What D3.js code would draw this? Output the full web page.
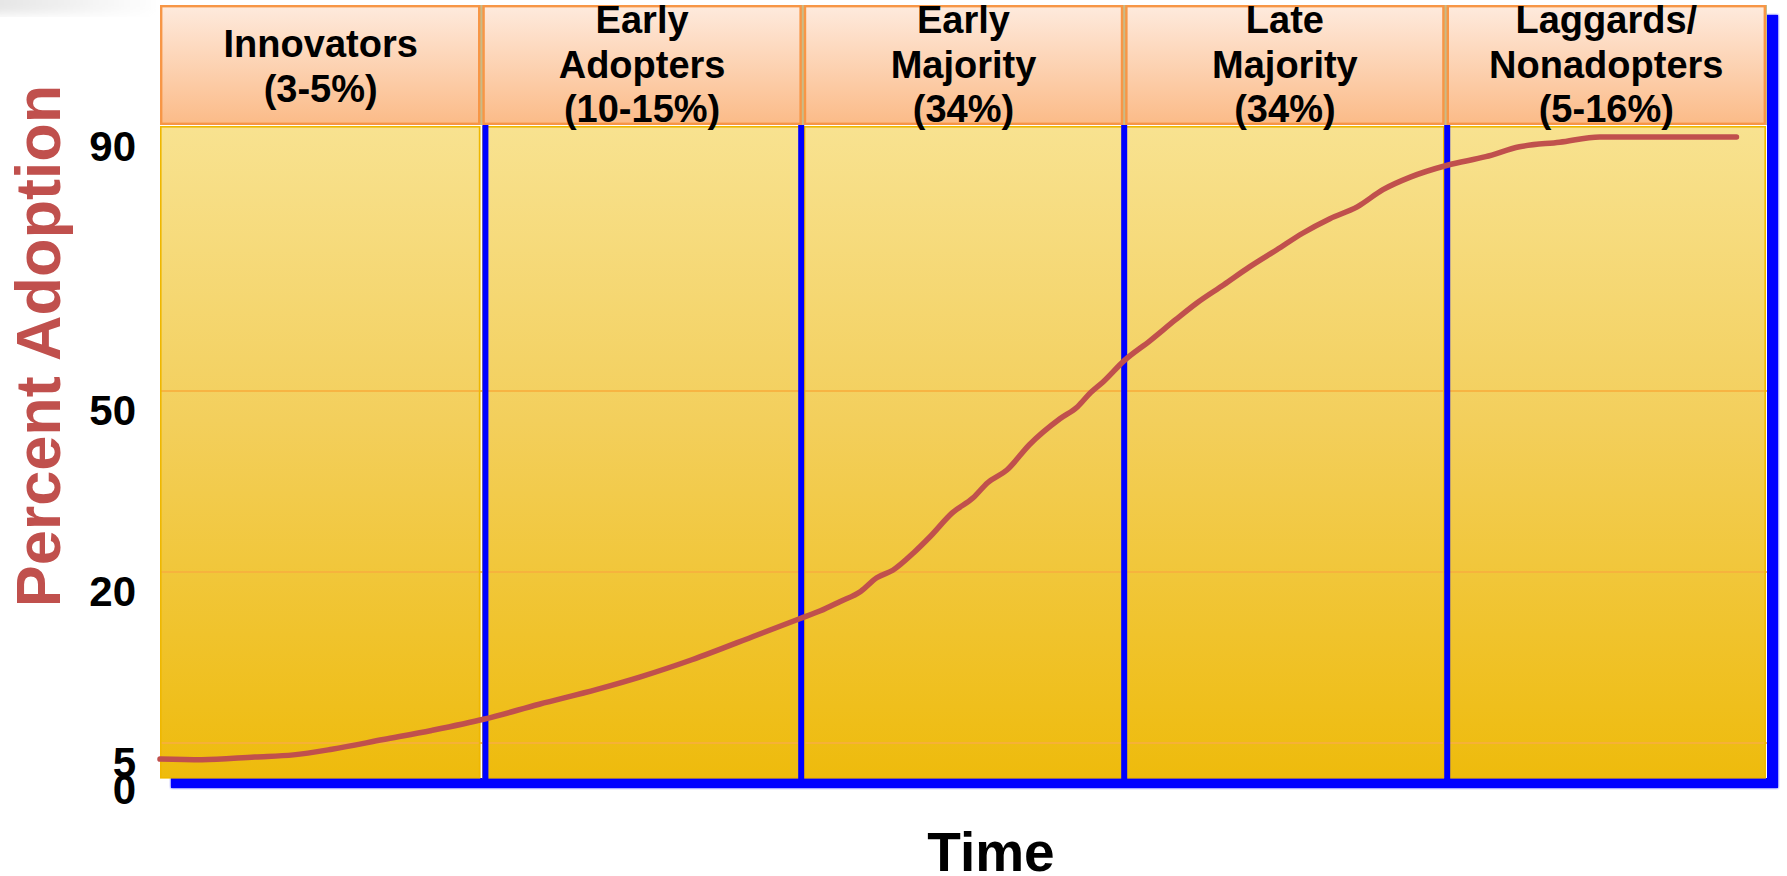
<!DOCTYPE html>
<html>
<head>
<meta charset="utf-8">
<script src="https://cdn.jsdelivr.net/npm/d3@7/dist/d3.min.js"></script>
<style>
  html, body { margin: 0; padding: 0; background: #ffffff; }
  svg { display: block; }
  text { font-family: "Liberation Sans", Arial, Helvetica, sans-serif; font-weight: bold; }
</style>
</head>
<body>
<svg id="chart" width="1787" height="876"></svg>
<script>
// ---------------- DATA ----------------
const stageLines = [
  ["Innovators", "(3-5%)"],
  ["Early", "Adopters", "(10-15%)"],
  ["Early", "Majority", "(34%)"],
  ["Late", "Majority", "(34%)"],
  ["Laggards/", "Nonadopters", "(5-16%)"]
];
const stageBounds = [0, 20, 40, 60, 80, 100];          // time units
const dividerTimes = [20.25, 39.9, 60, 80.1];           // blue stage dividers
const yTickValues = [0, 5, 20, 50, 90];
const gridValues = [5, 20, 50];
const curveTime = [0, 2.6, 5.9, 8.3, 10.7, 13.9, 16.9, 20.2, 23.6, 27.2, 29.9, 33.1, 37.2, 39.8,
  41.1, 42.3, 43.6, 44.6, 45.6, 46.9, 47.9, 49.3, 50.6, 51.5, 52.7, 54.1, 56.0, 57.1, 57.9, 58.7,
  60.0, 61.6, 63.2, 64.5, 66.2, 67.8, 69.5, 71.1, 72.8, 74.5, 76.1, 77.8, 80.1, 82.5, 84.6, 87.1,
  89.6, 98.1];
const curveValue = [2.7, 2.6, 3.0, 3.3, 4.1, 5.3, 6.1, 7.1, 8.4, 9.7, 10.8, 12.3, 14.5, 15.9,
  16.6, 17.4, 18.3, 19.5, 20.3, 23.2, 25.8, 29.8, 32.3, 34.8, 36.9, 41.1, 45.4, 47.4, 49.7, 51.4,
  54.6, 57.6, 60.8, 63.3, 66.1, 68.8, 71.4, 73.9, 76.1, 77.9, 80.5, 82.4, 84.2, 85.5, 87.0, 87.7,
  88.5, 88.5];
const yTitle = "Percent Adoption";
const xTitle = "Time";

// ---------------- LAYOUT ----------------
const W = 1787, H = 876;
const plotLeft = 160, plotRight = 1767, plotTop = 127, plotBottom = 778;
const headTop = 5, headBottom = 125;
const plotH = plotBottom - plotTop;
// axis is not uniform in the original: fraction of plot height for each tick value
const tickFractions = [0, 0.0538, 0.3164, 0.5945, 1];

const x = d3.scaleLinear().domain([0, 100]).range([plotLeft, plotRight]);
const y = d3.scaleLinear()
  .domain(yTickValues)
  .range(tickFractions.map(f => plotBottom - f * plotH));

const svg = d3.select("#chart");
const defs = svg.append("defs");

const gHead = defs.append("linearGradient").attr("id", "gHead")
  .attr("x1", 0).attr("y1", 0).attr("x2", 0).attr("y2", 1);
gHead.append("stop").attr("offset", "0%").attr("stop-color", "#feeadd");
gHead.append("stop").attr("offset", "100%").attr("stop-color", "#fbbb88");

const gPlot = defs.append("linearGradient").attr("id", "gPlot")
  .attr("gradientUnits", "userSpaceOnUse")
  .attr("x1", 0).attr("y1", plotTop).attr("x2", 0).attr("y2", plotBottom);
gPlot.append("stop").attr("offset", "0%").attr("stop-color", "#f8e290");
gPlot.append("stop").attr("offset", "45%").attr("stop-color", "#f3cf5c");
gPlot.append("stop").attr("offset", "100%").attr("stop-color", "#eebb0c");

const gTL = defs.append("linearGradient").attr("id", "gTL")
  .attr("x1", 0).attr("y1", 0).attr("x2", 1).attr("y2", 0);
gTL.append("stop").attr("offset", "0%").attr("stop-color", "#e4e4e4");
gTL.append("stop").attr("offset", "100%").attr("stop-color", "#ffffff");

defs.append("filter").attr("id", "soft").append("feGaussianBlur").attr("stdDeviation", 0.8);
defs.append("filter").attr("id", "blurTL").append("feGaussianBlur").attr("stdDeviation", 5);

// faint grey corner shadow
svg.append("rect").attr("x", -10).attr("y", -10).attr("width", 170).attr("height", 24)
  .attr("fill", "url(#gTL)").attr("filter", "url(#blurTL)");

// blue drop shadow of the whole box
svg.append("rect")
  .attr("x", plotLeft + 11).attr("y", headTop + 10)
  .attr("width", plotRight - plotLeft).attr("height", plotBottom - headTop)
  .attr("fill", "#0000ff").attr("filter", "url(#soft)");
svg.append("rect")
  .attr("x", plotLeft + 11).attr("y", headTop + 10)
  .attr("width", plotRight - plotLeft).attr("height", plotBottom - headTop)
  .attr("fill", "#0000ff");

// header background (gap colour)
svg.append("rect").attr("x", plotLeft).attr("y", headTop)
  .attr("width", plotRight - plotLeft).attr("height", headBottom - headTop)
  .attr("fill", "#c9bb86");

const cols = d3.range(stageLines.length);

// plot cells
svg.append("rect").attr("x", plotLeft).attr("y", plotTop - 2)
  .attr("width", plotRight - plotLeft).attr("height", plotBottom - plotTop + 2)
  .attr("fill", "#ffffff");
svg.selectAll("rect.pcell").data(cols).join("rect").attr("class", "pcell")
  .attr("x", i => x(stageBounds[i]) + (i === 0 ? 0 : 1))
  .attr("y", plotTop - 1)
  .attr("width", i => x(stageBounds[i + 1]) - x(stageBounds[i]) - (i === 0 ? 1 : 2))
  .attr("height", plotBottom - plotTop + 1)
  .attr("fill", "url(#gPlot)");

// grid lines
svg.selectAll("line.grid").data(gridValues).join("line").attr("class", "grid")
  .attr("x1", plotLeft).attr("x2", plotRight)
  .attr("y1", d => y(d)).attr("y2", d => y(d))
  .attr("stroke", "#f8b03e").attr("stroke-width", 1.8).attr("opacity", 0.85);

// cell borders
svg.selectAll("rect.pborder").data(cols).join("rect").attr("class", "pborder")
  .attr("x", i => x(stageBounds[i]) + (i === 0 ? 0.8 : 1.8))
  .attr("y", plotTop - 0.2)
  .attr("width", i => x(stageBounds[i + 1]) - x(stageBounds[i]) - (i === 0 ? 2.6 : 3.6))
  .attr("height", plotBottom - plotTop)
  .attr("fill", "none").attr("stroke", "#efb700").attr("stroke-width", 1.6);

// header cells
svg.selectAll("rect.hcell").data(cols).join("rect").attr("class", "hcell")
  .attr("x", i => x(stageBounds[i]) + (i === 0 ? 1.2 : 2.2))
  .attr("y", headTop + 1.2)
  .attr("width", i => x(stageBounds[i + 1]) - x(stageBounds[i]) - (i === 0 ? 3.4 : 4.4))
  .attr("height", headBottom - headTop - 2.4)
  .attr("fill", "url(#gHead)")
  .attr("stroke", "#f79646").attr("stroke-width", 2.4);

// header text
const hText = svg.selectAll("text.head").data(cols).join("text").attr("class", "head")
  .attr("text-anchor", "middle").attr("font-size", 38).attr("fill", "#000");
hText.each(function (i) {
  const lines = stageLines[i];
  const first = lines.length === 3 ? 33 : 57;
  const cx = (x(stageBounds[i]) + x(stageBounds[i + 1])) / 2;
  d3.select(this).selectAll("tspan").data(lines).join("tspan")
    .attr("x", cx)
    .attr("y", (d, k) => first + k * 44.5)
    .text(d => d);
});

// blue dividers
svg.selectAll("line.div").data(dividerTimes).join("line").attr("class", "div")
  .attr("x1", d => x(d)).attr("x2", d => x(d))
  .attr("y1", plotTop - 2).attr("y2", plotBottom + 2)
  .attr("stroke", "#0000ff").attr("stroke-width", 6);

// adoption curve
const pts = curveTime.map((t, i) => [t, curveValue[i]]);
svg.append("path").datum(pts)
  .attr("d", d3.line().x(d => x(d[0])).y(d => y(d[1])).curve(d3.curveMonotoneX))
  .attr("fill", "none").attr("stroke", "#c0504d").attr("stroke-width", 5.5)
  .attr("stroke-linejoin", "round").attr("stroke-linecap", "round");

// y tick labels
svg.selectAll("text.tick").data(yTickValues).join("text").attr("class", "tick")
  .attr("x", 136)
  .attr("y", d => y(d) + (d === 0 ? 26 : 34))
  .attr("text-anchor", "end").attr("font-size", 42).attr("fill", "#000")
  .text(d => d);

// axis titles
svg.append("text")
  .attr("transform", `translate(60, 346) rotate(-90)`)
  .attr("text-anchor", "middle").attr("font-size", 63).attr("fill", "#c0504d")
  .text(yTitle);

svg.append("text")
  .attr("x", 991).attr("y", 871)
  .attr("text-anchor", "middle").attr("font-size", 55).attr("fill", "#000")
  .text(xTitle);
</script>
</body>
</html>
